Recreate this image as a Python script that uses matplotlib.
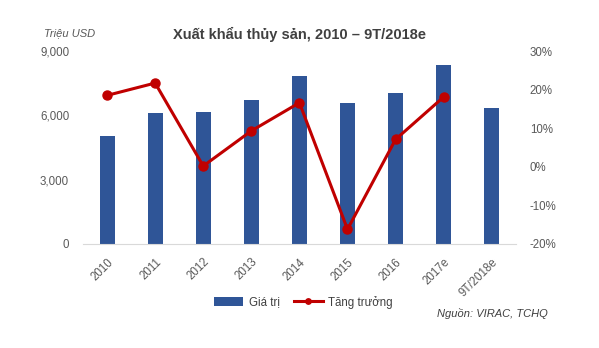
import matplotlib
matplotlib.use("Agg")
import matplotlib.pyplot as plt
import matplotlib.transforms as mtransforms
from matplotlib.ticker import FuncFormatter, FixedLocator

categories = ["2010", "2011", "2012", "2013", "2014", "2015", "2016", "2017e", "9T/2018e"]
gia_tri = [5040, 6110, 6160, 6720, 7840, 6580, 7040, 8350, 6340]
tang_truong = [18.5, 21.7, 0.2, 9.3, 16.6, -16.2, 7.1, 18.1]

plt.rcParams['font.family'] = ['Liberation Sans', 'DejaVu Sans']
gray = "#595959"
bar_color = "#2F5597"
line_color = "#C00000"

fig = plt.figure(figsize=(5.99, 3.48), dpi=100)
ax = fig.add_axes([0.1386, 0.2989, 0.7225, 0.5545])
x = list(range(len(categories)))
bars = ax.bar(x, gia_tri, width=0.31, color=bar_color, label="Giá trị", zorder=2)
ax.set_xlim(-0.5, len(categories) - 0.5)
ax.set_ylim(0, 9000)
ax.yaxis.set_major_locator(FixedLocator([0, 3000, 6000, 9000]))
ax.yaxis.set_major_formatter(FuncFormatter(lambda v, p: f"{int(v):,}"))
ax.set_xticks(x)
ax.set_xticklabels([])
offset = mtransforms.ScaledTranslation(0 / 100, -12 / 100, fig.dpi_scale_trans)
trans = ax.get_xaxis_transform() + offset
for xi, lab in zip(x, categories):
    ax.text(xi, 0, lab, transform=trans, rotation=45, ha='right', va='top',
            rotation_mode='anchor', fontsize=8.3, color=gray)
ax.tick_params(axis='both', length=0, labelsize=8.3, labelcolor=gray)
ax.tick_params(axis='y', pad=10)
for s in ["top", "right", "left"]:
    ax.spines[s].set_visible(False)
ax.spines["bottom"].set_color("#D9D9D9")

ax2 = ax.twinx()
ln, = ax2.plot(x[:len(tang_truong)], tang_truong, color=line_color, lw=2.2,
               marker='o', markersize=6.5, label="Tăng trưởng", zorder=3)
ax2.set_ylim(-20, 30)
ax2.yaxis.set_major_locator(FixedLocator([-20, -10, 0, 10, 20, 30]))
ax2.yaxis.set_major_formatter(FuncFormatter(lambda v, p: f"{int(v)}%"))
ax2.tick_params(axis='both', length=0, labelsize=8.3, labelcolor=gray, pad=10)
for s in ["top", "right", "left", "bottom"]:
    ax2.spines[s].set_visible(False)

fig.text(0.5, 0.90, "Xuất khẩu thủy sản, 2010 – 9T/2018e", ha='center', va='center',
         fontsize=10.5, fontweight='bold', color="#404040")
fig.text(0.073, 0.905, "Triệu USD", ha='left', va='center', fontsize=8,
         style='italic', color=gray)
fig.text(0.915, 0.10, "Nguồn: VIRAC, TCHQ", ha='right', va='center', fontsize=8,
         style='italic', color="#404040")

fig.legend([bars, ln], ["Giá trị", "Tăng trưởng"], loc='center', ncol=2,
           bbox_to_anchor=(0.507, 0.132), frameon=False, fontsize=8.3,
           handlelength=2.5, columnspacing=1.2, handletextpad=0.5,
           markerscale=0.6, labelcolor="#404040")

fig.savefig("out.png", dpi=100)
